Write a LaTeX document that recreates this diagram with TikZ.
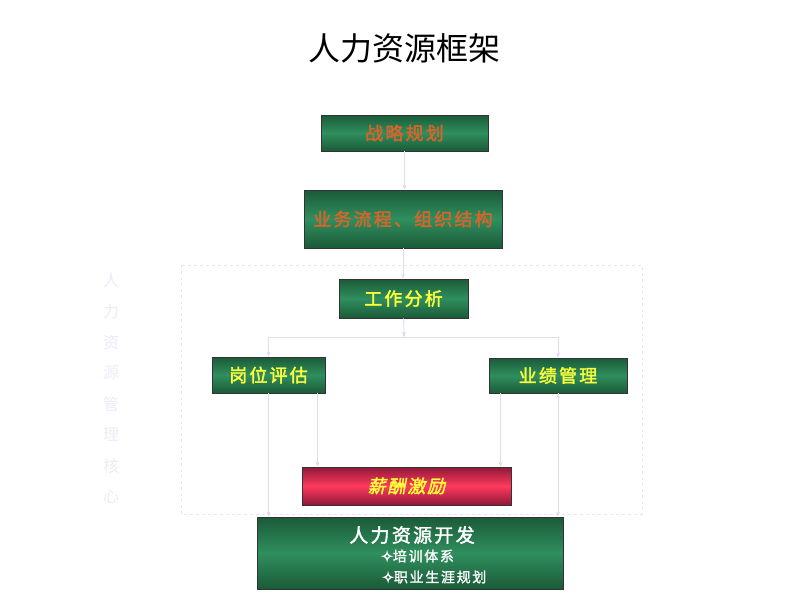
\documentclass[tikz,border=0pt]{standalone}
\usepackage{fontspec}
\usetikzlibrary{positioning,arrows.meta}
\newfontfamily\cjk{Noto Sans CJK SC}
\newfontfamily\cjkb[FakeBold=2,LetterSpace=12]{Noto Sans CJK SC}
\newfontfamily\cjkbi[FakeBold=2,FakeSlant=0.2,LetterSpace=10]{Noto Sans CJK SC}
\newfontfamily\cjks[FakeBold=1.5,LetterSpace=12]{Noto Sans CJK SC}
\newfontfamily\sym[FakeBold=3]{DejaVu Sans}
\definecolor{gdark}{HTML}{1B5A38}
\definecolor{glight}{HTML}{2F8F5E}
\definecolor{rdark}{HTML}{8E1838}
\definecolor{rlight}{HTML}{FF3A5E}
\definecolor{brown}{HTML}{D9642A}
\definecolor{yel}{HTML}{FFFF3A}
\definecolor{lav}{HTML}{E2DCF2}
\definecolor{pale}{HTML}{EFE9F8}

\tikzset{
  gbox/.style={draw=black!80, line width=0.8pt, top color=gdark, bottom color=gdark,
    middle color=glight, inner sep=0pt, font=\cjkb\fontsize{18}{18}\selectfont},
  rbox/.style={gbox, top color=rdark, bottom color=rdark, middle color=rlight},
  link/.style={draw=lav, line width=0.9pt, -{Stealth[length=5pt,width=4pt]}}
}

\begin{document}
\begin{tikzpicture}[x=1pt,y=-1pt]
  \useasboundingbox (0,0) rectangle (795,602);
  \node (title) at (404,48) {\cjk\fontsize{32}{32}\selectfont 人力资源框架};
  % core area
  \draw[pale!80!gray!60, dashed, dash pattern=on 3pt off 3pt, line width=0.8pt]
    (181,265) rectangle (642,514);
  \foreach \c [count=\i from 0] in {人,力,资,源,管,理,核,心}
    \node[text=pale, font=\cjk\fontsize{16}{16}\selectfont] (v\i) at (111,280+31*\i) {\c};

  \node[gbox, text=brown, minimum width=167, minimum height=36] (zl) at (404.5,133) {战略规划};
  \node[gbox, text=brown, minimum width=198, minimum height=58] (yw) at (403,219) {业务流程、组织结构};
  \node[gbox, text=yel, minimum width=129, minimum height=39] (gz) at (403.5,298.5) {工作分析};
  \node[gbox, text=yel, minimum width=113, minimum height=36] (gw) at (268.5,375) {岗位评估};
  \node[gbox, text=yel, minimum width=138, minimum height=35] (yj) at (558,375.5) {业绩管理};
  \node[rbox, text=yel, minimum width=209, minimum height=38, font=\cjkbi\fontsize{18}{18}\selectfont]
    (xc) at (406.5,486) {薪酬激励};
  \node[gbox, minimum width=306, minimum height=72] (kf) at (410,553) {};
  \node[text=white, font=\cjkb\fontsize{19}{19}\selectfont] (kft) at (412,535) {人力资源开发};
  \node[text=white, anchor=west, inner sep=0pt, font=\cjks\fontsize{14}{14}\selectfont]
    (kf1) at (381,556) {{\sym\fontsize{14}{14}\selectfont ✧}培训体系};
  \node[text=white, anchor=west, inner sep=0pt, font=\cjks\fontsize{14}{14}\selectfont]
    (kf2) at (382,577) {{\sym\fontsize{14}{14}\selectfont ✧}职业生涯规划};

  \coordinate (bar) at (404,337);
  \path[link]
    (zl.south) edge (zl.south |- yw.north)
    (yw.south) edge (yw.south |- gz.north)
    (gz.south) edge (bar)
    (bar) edge[-] (bar -| gw.north)
    (bar) edge[-] (bar -| yj.north)
    (bar -| gw.north) edge (gw.north)
    (bar -| yj.north) edge (yj.north)
    ([xshift=-8]gw.south east) edge ([xshift=-8]gw.south east |- xc.north)
    (gw.south) edge (gw.south |- kf.north)
    ([xshift=12]yj.south west) edge ([xshift=12]yj.south west |- xc.north)
    (yj.south) edge (yj.south |- kf.north);
\end{tikzpicture}
\end{document}
